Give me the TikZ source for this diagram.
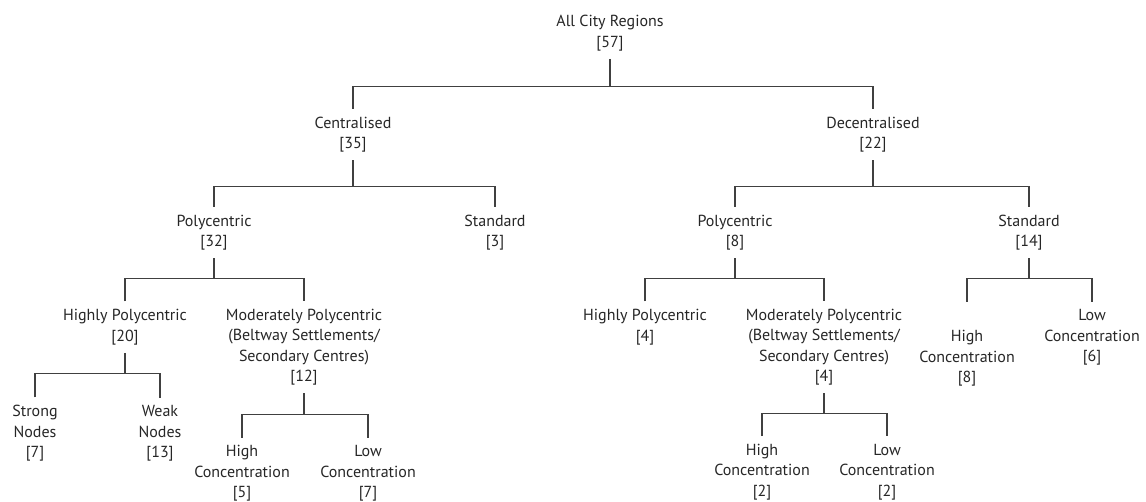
\documentclass[tikz,border=0pt]{standalone}
\usepackage{fontspec}
\setmainfont{PT Sans}
\newcommand{\fork}[4]{%
  \draw (#1.south) -- ++(0,#4) coordinate (#1-bar);
  \draw (#2.north) |- (#1-bar) -| (#3.north);
}

\begin{document}
\begin{tikzpicture}[x=1pt,y=-1pt,color=black!75,line width=1.2pt,
  every node/.style={align=center,inner sep=0pt,outer ysep=8pt,text=black!85,
    font=\fontsize{16}{20.5}\selectfont}]
\useasboundingbox (0,0) rectangle (1146,501);
\node (root) at (610,33) {All City Regions\\{[57]}};
%first split
\node (cen) at (353,134.5) {Centralised\\{[35]}};
\node (dec) at (873,134.5) {Decentralised\\{[22]}};
\node (lpol) at (214,232.5) {Polycentric\\{[32]}};
\node (lstd) at (495,232.5) {Standard\\{[3]}};
\node (rpol) at (735,232.5) {Polycentric\\{[8]}};
\node (rstd) at (1029,232.5) {Standard\\{[14]}};
%polycentric branches
\node (lhp) at (125,327) {Highly Polycentric\\{[20]}};
\node (lmp) at (304,347) {Moderately Polycentric\\(Beltway Settlements/\\Secondary Centres)\\{[12]}};
\node (rhp) at (645,327) {Highly Polycentric\\{[4]}};
\node (rmp) at (824,347) {Moderately Polycentric\\(Beltway Settlements/\\Secondary Centres)\\{[4]}};
\node (rhc) at (967,358.5) {High\\Concentration\\{[8]}};
\node (rlc) at (1092,337.5) {Low\\Concentration\\{[6]}};
%bottom row
\node (strong) at (35,433.5) {Strong\\Nodes\\{[7]}};
\node (weak) at (160,433.5) {Weak\\Nodes\\{[13]}};
\node (lhc) at (242,473.5) {High\\Concentration\\{[5]}};
\node (llc) at (368,473.5) {Low\\Concentration\\{[7]}};
\node (rhc2) at (762,472) {High\\Concentration\\{[2]}};
\node (rlc2) at (887,472) {Low\\Concentration\\{[2]}};
%connectors
\fork{root}{cen}{dec}{28}
\fork{cen}{lpol}{lstd}{26}
\fork{dec}{rpol}{rstd}{26}
\fork{lpol}{lhp}{lmp}{20}
\fork{rpol}{rhp}{rmp}{20}
\fork{lhp}{strong}{weak}{21}
\fork{lmp}{lhc}{llc}{21}
\fork{rmp}{rhc2}{rlc2}{20}
\draw (rstd.south) -- ++(0,20) coordinate (rstd-bar);
\draw (rhc.north |- rlc.north) |- (rstd-bar) -| (rlc.north);
\end{tikzpicture}
\end{document}
